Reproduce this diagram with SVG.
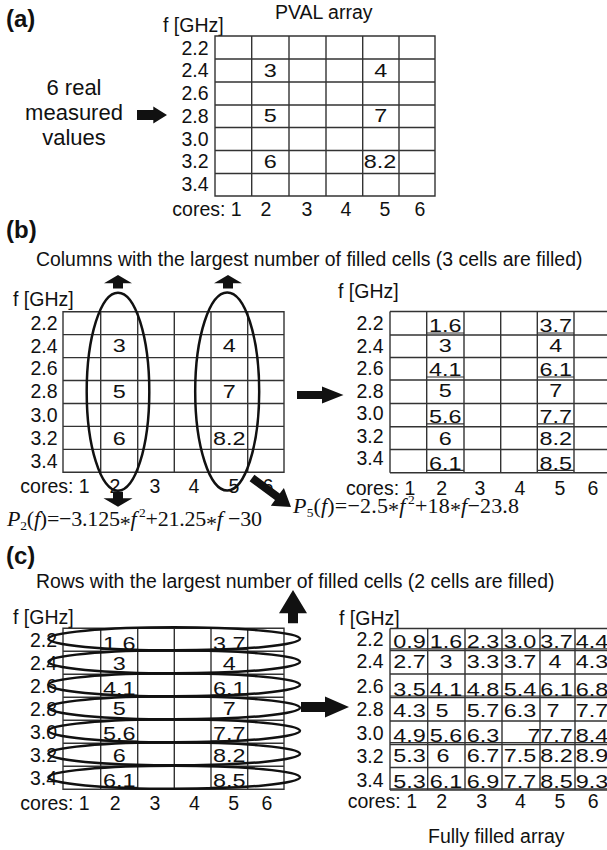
<svg xmlns="http://www.w3.org/2000/svg" width="607" height="850" viewBox="0 0 607 850">
<style>
.t{font-family:"Liberation Sans",Arial,sans-serif;font-size:19.5px;fill:#111}
.ti{font-family:"Liberation Sans",Arial,sans-serif;font-size:19.4px;fill:#111}
.big{font-family:"Liberation Sans",Arial,sans-serif;font-size:22px;fill:#111;text-anchor:middle}
.pl{font-family:"Liberation Sans",Arial,sans-serif;font-size:24px;font-weight:bold;fill:#111}
.e{text-anchor:end}
.m{text-anchor:middle}
.v{font-family:"Liberation Sans",Arial,sans-serif;font-size:18px;fill:#111;text-anchor:middle}
.g{fill:none;stroke:#333;stroke-width:1.4}
.u{fill:none;stroke:#333;stroke-width:1.2}
.el{fill:none;stroke:#111;stroke-width:2.5}
.ar{fill:#111;stroke:none}
.fm{font-family:"Liberation Serif","Times New Roman",serif;font-size:22px;fill:#111}
.it{font-style:italic}
.sb{font-size:13.5px}
</style>

<g id="panel-a">
<text class="pl" x="6" y="27">(a)</text>
<g id="measured-values">
<text class="big" x="74" y="95">6 real</text>
<text class="big" x="74" y="120">measured</text>
<text class="big" x="74" y="145">values</text>
</g>
<g id="grid-a">
<text class="t" x="275" y="18.5">PVAL array</text>
<text class="t" x="163" y="31.5">f [GHz]</text>
<path class="g" d="M215 36H435V196H215Z M251.7 36V196 M289 36V196 M326 36V196 M362.7 36V196 M399 36V196 M215 59H435 M215 82H435 M215 105H435 M215 127.5H435 M215 150.5H435 M215 173.5H435"/>
<text class="t e" x="208.5" y="55">2.2</text>
<text class="t e" x="208.5" y="77.3">2.4</text>
<text class="t e" x="208.5" y="100">2.6</text>
<text class="t e" x="208.5" y="123.3">2.8</text>
<text class="t e" x="208.5" y="146">3.0</text>
<text class="t e" x="208.5" y="168.3">3.2</text>
<text class="t e" x="208.5" y="190.7">3.4</text>
<text class="v" transform="translate(270.3,77) scale(1.3,1)">3</text>
<text class="v" transform="translate(380.8,77) scale(1.3,1)">4</text>
<text class="v" transform="translate(270.3,121.7) scale(1.3,1)">5</text>
<text class="v" transform="translate(380.8,121.7) scale(1.3,1)">7</text>
<text class="v" transform="translate(270.3,168.3) scale(1.3,1)">6</text>
<text class="v" transform="translate(380,168.3) scale(1.3,1)">8.2</text>
<text class="t e" x="241.7" y="216">cores: 1</text>
<text class="t m" x="266" y="216">2</text>
<text class="t m" x="307" y="216">3</text>
<text class="t m" x="346" y="216">4</text>
<text class="t m" x="385" y="216">5</text>
<text class="t m" x="420" y="216">6</text>
</g>
</g>

<g id="panel-b">
<text class="pl" x="6" y="238">(b)</text>
<text class="ti" x="36" y="266">Columns with the largest number of filled cells (3 cells are filled)</text>
<g id="grid-b-left">
<text class="t" x="13" y="306">f [GHz]</text>
<path class="g" d="M63 311.7H284V472.3H63Z M100.7 311.7V472.3 M137.7 311.7V472.3 M174.3 311.7V472.3 M211 311.7V472.3 M247.7 311.7V472.3 M63 334.6H284 M63 357.6H284 M63 380.5H284 M63 403.5H284 M63 426.4H284 M63 449.4H284"/>
<text class="t e" x="57.5" y="330">2.2</text>
<text class="t e" x="57.5" y="353.3">2.4</text>
<text class="t e" x="57.5" y="375">2.6</text>
<text class="t e" x="57.5" y="398.3">2.8</text>
<text class="t e" x="57.5" y="421.7">3.0</text>
<text class="t e" x="57.5" y="445">3.2</text>
<text class="t e" x="57.5" y="468.3">3.4</text>
<text class="v" transform="translate(119.2,351.7) scale(1.3,1)">3</text>
<text class="v" transform="translate(229.3,351.7) scale(1.3,1)">4</text>
<text class="v" transform="translate(119.2,398.3) scale(1.3,1)">5</text>
<text class="v" transform="translate(229.3,398.3) scale(1.3,1)">7</text>
<text class="v" transform="translate(119.2,445) scale(1.3,1)">6</text>
<text class="v" transform="translate(229.3,445) scale(1.3,1)">8.2</text>
<text class="t e" x="89.7" y="493">cores: 1</text>
<text class="t m" x="115" y="493">2</text>
<text class="t m" x="155" y="493">3</text>
<text class="t m" x="194" y="493">4</text>
<text class="t m" x="234" y="493">5</text>
<text class="t m" x="268" y="493">6</text>
<ellipse class="el" cx="118" cy="391.7" rx="31.3" ry="99"/>
<ellipse class="el" cx="227.2" cy="391.5" rx="32" ry="99"/>
</g>
<g id="formula-p2">
<text class="fm" x="7" y="526" textLength="255" lengthAdjust="spacing"><tspan class="it">P</tspan><tspan class="sb" dy="4">2</tspan><tspan dy="-4">(</tspan><tspan class="it">f</tspan><tspan>)=−3.125</tspan><tspan dy="4.5">*</tspan><tspan class="it" dy="-4.5">f</tspan><tspan class="sb" dx="2.5" dy="-9">2</tspan><tspan dy="9">+21.25</tspan><tspan dy="4.5">*</tspan><tspan class="it" dy="-4.5">f</tspan><tspan> −30</tspan></text>
</g>
<g id="formula-p5">
<text class="fm" x="293" y="512.5" textLength="226" lengthAdjust="spacing"><tspan class="it">P</tspan><tspan class="sb" dy="4">5</tspan><tspan dy="-4">(</tspan><tspan class="it">f</tspan><tspan>)=−2.5</tspan><tspan dy="4.5">*</tspan><tspan class="it" dy="-4.5">f</tspan><tspan class="sb" dx="2.5" dy="-9">2</tspan><tspan dy="9">+18</tspan><tspan dy="4.5">*</tspan><tspan class="it" dy="-4.5">f</tspan><tspan>−23.8</tspan></text>
</g>
<g id="grid-b-right">
<text class="t" x="338" y="298">f [GHz]</text>
<path class="g" d="M390 311.5H611 M390 472.7H611 M390 311.5V472.7 M426.7 311.5V472.7 M464 311.5V472.7 M500.7 311.5V472.7 M537.3 311.5V472.7 M574 311.5V472.7 M390 335H611 M390 357.5H611 M390 380H611 M390 403.5H611 M390 426.7H611 M390 449.5H611"/>
<path class="u" d="M426.7 333H464 M537.3 333H574 M426.7 377H464 M537.3 377H574 M426.7 423.8H464 M537.3 423.8H574 M426.7 470.3H464 M537.3 470.3H574"/>
<text class="t e" x="383.5" y="330">2.2</text>
<text class="t e" x="383.5" y="352.7">2.4</text>
<text class="t e" x="383.5" y="375">2.6</text>
<text class="t e" x="383.5" y="398.3">2.8</text>
<text class="t e" x="383.5" y="420">3.0</text>
<text class="t e" x="383.5" y="443.3">3.2</text>
<text class="t e" x="383.5" y="465">3.4</text>
<text class="v" transform="translate(445.3,332.3) scale(1.3,1)">1.6</text>
<text class="v" transform="translate(555.7,332.3) scale(1.3,1)">3.7</text>
<text class="v" transform="translate(445.3,352) scale(1.3,1)">3</text>
<text class="v" transform="translate(555.7,352) scale(1.3,1)">4</text>
<text class="v" transform="translate(445.3,376.3) scale(1.3,1)">4.1</text>
<text class="v" transform="translate(555.7,376.3) scale(1.3,1)">6.1</text>
<text class="v" transform="translate(445.3,397) scale(1.3,1)">5</text>
<text class="v" transform="translate(555.7,397) scale(1.3,1)">7</text>
<text class="v" transform="translate(445.3,423.1) scale(1.3,1)">5.6</text>
<text class="v" transform="translate(555.7,423.1) scale(1.3,1)">7.7</text>
<text class="v" transform="translate(445.3,445) scale(1.3,1)">6</text>
<text class="v" transform="translate(555.7,445) scale(1.3,1)">8.2</text>
<text class="v" transform="translate(445.3,469.6) scale(1.3,1)">6.1</text>
<text class="v" transform="translate(555.7,469.6) scale(1.3,1)">8.5</text>
<text class="t e" x="415.4" y="495">cores: 1</text>
<text class="t m" x="441.7" y="495">2</text>
<text class="t m" x="480" y="495">3</text>
<text class="t m" x="520" y="495">4</text>
<text class="t m" x="560" y="495">5</text>
<text class="t m" x="593" y="495">6</text>
</g>
</g>

<g id="panel-c">
<text class="pl" x="6" y="563.5">(c)</text>
<text class="ti" x="36" y="588">Rows with the largest number of filled cells (2 cells are filled)</text>
<g id="grid-c-left">
<text class="t" x="13" y="623.5">f [GHz]</text>
<path class="g" d="M63 628.3H284V789.3H63Z M100.7 628.3V789.3 M137.7 628.3V789.3 M174.3 628.3V789.3 M211 628.3V789.3 M247.7 628.3V789.3 M63 651.3H284 M63 674.3H284 M63 697.3H284 M63 720.3H284 M63 743.3H284 M63 766.3H284"/>
<path class="u" d="M100.7 649.3H137.7 M211 649.3H247.7 M100.7 695.2H137.7 M211 695.2H247.7 M100.7 741H137.7 M211 741H247.7 M100.7 787.3H137.7 M211 787.3H247.7"/>
<text class="t e" x="57" y="647">2.2</text>
<text class="t e" x="57" y="670">2.4</text>
<text class="t e" x="57" y="693">2.6</text>
<text class="t e" x="57" y="716">2.8</text>
<text class="t e" x="57" y="739">3.0</text>
<text class="t e" x="57" y="761.5">3.2</text>
<text class="t e" x="57" y="785">3.4</text>
<text class="v" transform="translate(119.2,649.5) scale(1.3,1)">1.6</text>
<text class="v" transform="translate(229.3,649.5) scale(1.3,1)">3.7</text>
<text class="v" transform="translate(119.2,670) scale(1.3,1)">3</text>
<text class="v" transform="translate(229.3,670) scale(1.3,1)">4</text>
<text class="v" transform="translate(119.2,694.5) scale(1.3,1)">4.1</text>
<text class="v" transform="translate(229.3,694.5) scale(1.3,1)">6.1</text>
<text class="v" transform="translate(119.2,715) scale(1.3,1)">5</text>
<text class="v" transform="translate(229.3,715) scale(1.3,1)">7</text>
<text class="v" transform="translate(119.2,740.3) scale(1.3,1)">5.6</text>
<text class="v" transform="translate(229.3,740.3) scale(1.3,1)">7.7</text>
<text class="v" transform="translate(119.2,761.7) scale(1.3,1)">6</text>
<text class="v" transform="translate(229.3,761.7) scale(1.3,1)">8.2</text>
<text class="v" transform="translate(119.2,786.6) scale(1.3,1)">6.1</text>
<text class="v" transform="translate(229.3,786.6) scale(1.3,1)">8.5</text>
<text class="t e" x="89.7" y="810">cores: 1</text>
<text class="t m" x="115.3" y="810">2</text>
<text class="t m" x="155" y="810">3</text>
<text class="t m" x="194.5" y="810">4</text>
<text class="t m" x="233.7" y="810">5</text>
<text class="t m" x="267" y="810">6</text>
<ellipse class="el" cx="174.2" cy="638.8" rx="125.8" ry="11.5"/>
<ellipse class="el" cx="174.2" cy="661.8" rx="125.8" ry="11.5"/>
<ellipse class="el" cx="174.2" cy="684.8" rx="125.8" ry="11.5"/>
<ellipse class="el" cx="174.2" cy="707.8" rx="125.8" ry="11.5"/>
<ellipse class="el" cx="174.2" cy="730.8" rx="125.8" ry="11.5"/>
<ellipse class="el" cx="174.2" cy="753.8" rx="125.8" ry="11.5"/>
<ellipse class="el" cx="174.2" cy="777.3" rx="125.8" ry="11.5"/>
</g>
<g id="grid-c-right">
<text class="t" x="339" y="624.5">f [GHz]</text>
<path class="g" d="M390 628.5H611 M390 790H611 M390 628.5V790 M427.7 628.5V790 M465 628.5V790 M502 628.5V790 M540 628.5V790 M575 628.5V790 M390 650.5H611 M390 674H611 M390 697.5H611 M390 721H611 M390 744.5H611 M390 767.5H611"/>
<path class="u" d="M390 648.9H611 M390 696H611 M390 742.6H611 M390 788.8H611"/>
<text class="t e" x="383.5" y="645.5">2.2</text>
<text class="t e" x="383.5" y="667.5">2.4</text>
<text class="t e" x="383.5" y="692.5">2.6</text>
<text class="t e" x="383.5" y="716">2.8</text>
<text class="t e" x="383.5" y="740">3.0</text>
<text class="t e" x="383.5" y="762.5">3.2</text>
<text class="t e" x="383.5" y="787">3.4</text>
<text class="v" transform="translate(409.5,648.3) scale(1.3,1)">0.9</text>
<text class="v" transform="translate(446,648.3) scale(1.3,1)">1.6</text>
<text class="v" transform="translate(483,648.3) scale(1.3,1)">2.3</text>
<text class="v" transform="translate(520,648.3) scale(1.3,1)">3.0</text>
<text class="v" transform="translate(556.5,648.3) scale(1.3,1)">3.7</text>
<text class="v" transform="translate(592,648.3) scale(1.3,1)">4.4</text>
<text class="v" transform="translate(409.5,668.3) scale(1.3,1)">2.7</text>
<text class="v" transform="translate(446,668.3) scale(1.3,1)">3</text>
<text class="v" transform="translate(483,668.3) scale(1.3,1)">3.3</text>
<text class="v" transform="translate(520,668.3) scale(1.3,1)">3.7</text>
<text class="v" transform="translate(555,668.3) scale(1.3,1)">4</text>
<text class="v" transform="translate(592,668.3) scale(1.3,1)">4.3</text>
<text class="v" transform="translate(409.5,695.5) scale(1.3,1)">3.5</text>
<text class="v" transform="translate(446,695.5) scale(1.3,1)">4.1</text>
<text class="v" transform="translate(483,695.5) scale(1.3,1)">4.8</text>
<text class="v" transform="translate(520,695.5) scale(1.3,1)">5.4</text>
<text class="v" transform="translate(556.5,695.5) scale(1.3,1)">6.1</text>
<text class="v" transform="translate(592,695.5) scale(1.3,1)">6.8</text>
<text class="v" transform="translate(409.5,716.5) scale(1.3,1)">4.3</text>
<text class="v" transform="translate(442,716.5) scale(1.3,1)">5</text>
<text class="v" transform="translate(483,716.5) scale(1.3,1)">5.7</text>
<text class="v" transform="translate(520,716.5) scale(1.3,1)">6.3</text>
<text class="v" transform="translate(553,716.5) scale(1.3,1)">7</text>
<text class="v" transform="translate(592,716.5) scale(1.3,1)">7.7</text>
<text class="v" transform="translate(409.5,741.7) scale(1.3,1)">4.9</text>
<text class="v" transform="translate(446,741.7) scale(1.3,1)">5.6</text>
<text class="v" transform="translate(483,741.7) scale(1.3,1)">6.3</text>
<text class="v" transform="translate(534,741.7) scale(1.3,1)">7</text>
<text class="v" transform="translate(556.5,741.7) scale(1.3,1)">7.7</text>
<text class="v" transform="translate(592,741.7) scale(1.3,1)">8.4</text>
<text class="v" transform="translate(409.5,761.7) scale(1.3,1)">5.3</text>
<text class="v" transform="translate(443,761.7) scale(1.3,1)">6</text>
<text class="v" transform="translate(483,761.7) scale(1.3,1)">6.7</text>
<text class="v" transform="translate(520,761.7) scale(1.3,1)">7.5</text>
<text class="v" transform="translate(556.5,761.7) scale(1.3,1)">8.2</text>
<text class="v" transform="translate(592,761.7) scale(1.3,1)">8.9</text>
<text class="v" transform="translate(409.5,788.3) scale(1.3,1)">5.3</text>
<text class="v" transform="translate(446,788.3) scale(1.3,1)">6.1</text>
<text class="v" transform="translate(483,788.3) scale(1.3,1)">6.9</text>
<text class="v" transform="translate(520,788.3) scale(1.3,1)">7.7</text>
<text class="v" transform="translate(556.5,788.3) scale(1.3,1)">8.5</text>
<text class="v" transform="translate(592,788.3) scale(1.3,1)">9.3</text>
<text class="t e" x="417" y="808">cores: 1</text>
<text class="t m" x="441.7" y="808">2</text>
<text class="t m" x="481.7" y="808">3</text>
<text class="t m" x="520.5" y="808">4</text>
<text class="t m" x="560" y="808">5</text>
<text class="t m" x="593.3" y="808">6</text>
<text class="t" x="428" y="843">Fully filled array</text>
</g>
</g>

<g id="connectors">
<polygon class="ar" points="137,110 153.3,110 153.3,106.5 167,115 153.3,123.5 153.3,120 137,120"/>
<polygon class="ar" points="113,288.5 113,283.3 104,283.3 118,275 132,283.3 123,283.3 123,288.5"/>
<polygon class="ar" points="223,288.5 223,283.3 214,283.3 228,275 242,283.3 233,283.3 233,288.5"/>
<polygon class="ar" points="113,491.7 123,491.7 123,498.3 132.5,498.3 118,506.7 103.5,498.3 113,498.3"/>
<polygon class="ar" points="254.4,474.8 279.7,493.6 283.9,488 291,507 270.8,505.7 275,500.1 249.6,481.2"/>
<polygon class="ar" points="297,391 322,391 322,386.5 343.5,395 322,403.5 322,399 297,399"/>
<polygon class="ar" points="288,623.3 288,613.3 279,613.3 293,590 307,613.3 298,613.3 298,623.3"/>
<polygon class="ar" points="301,702 325,702 325,696.5 349,707 325,717.5 325,712 301,712"/>
</g>
</svg>
